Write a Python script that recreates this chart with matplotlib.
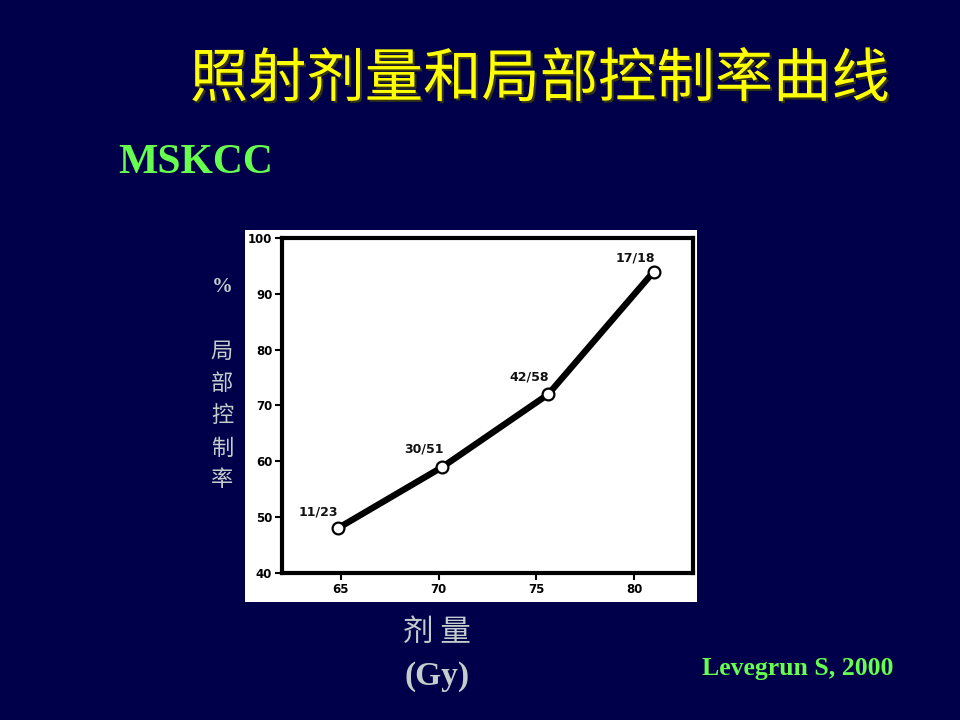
#!/usr/bin/env python3
# -*- coding: utf-8 -*-

import matplotlib
matplotlib.use('Agg')
from matplotlib import pyplot as plt
from matplotlib.patches import Rectangle
import matplotlib.patheffects as pe

# Data
dose = [64.85, 70.2, 75.6, 81.0]
control = [48, 59, 72, 94]
counts = ['11/23', '30/51', '42/58', '17/18']
x_ticks = [65, 70, 75, 80]
y_ticks = [40, 50, 60, 70, 80, 90, 100]

BG = '#00004A'
YELLOW = '#FFFF00'
GREEN = '#66FF4D'
GREY = '#C4CCCC'
CJK = ['Noto Sans CJK SC', 'DejaVu Sans']
SERIF = ['Liberation Serif', 'DejaVu Serif']

fig = plt.figure(figsize=(9.6, 7.2), dpi=100, facecolor=BG)

W, H = 960.0, 720.0
# white picture panel behind the chart
fig.patches.append(Rectangle((245 / W, 1 - 602 / H), 452 / W, 372 / H,
                             transform=fig.transFigure, facecolor='white',
                             edgecolor='none', zorder=0))

ax = fig.add_axes([282 / W, 1 - 573 / H, 411 / W, 335 / H])
ax.set_zorder(2)
ax.set_facecolor('white')
ax.plot(dose, control, color='black', lw=4.6, solid_capstyle='round',
        zorder=2)
ax.plot(dose, control, 'o', ms=8.5, mfc='white', mec='black', mew=1.6,
        zorder=3)

# n/N annotations, offset up-left of each point
offsets = [(-14, 7), (-13, 8), (-14, 8), (-13, 5)]
for x, y, lab, (dx, dy) in zip(dose, control, counts, offsets):
    ax.annotate(lab, (x, y), xytext=(dx, dy), textcoords='offset points',
                ha='center', va='bottom', fontsize=9, fontweight='bold',
                family='DejaVu Sans', color='#111111')

ax.set_xlim(62.0, 83.0)
ax.set_ylim(40, 100)
ax.set_xticks(x_ticks)
ax.set_yticks(y_ticks)
for s in ax.spines.values():
    s.set_linewidth(3)
    s.set_color('black')
ax.tick_params(direction='out', length=5, width=1.5, colors='black',
               labelsize=8.5, pad=2)
for t in ax.get_xticklabels() + ax.get_yticklabels():
    t.set_fontweight('bold')
    t.set_family('DejaVu Sans')

# title and side texts
fig.text(540 / W, 1 - 80 / H, '照射剂量和局部控制率曲线', ha='center',
         va='center', fontsize=42, color=YELLOW, family=CJK,
         fontweight='medium',
         path_effects=[pe.withSimplePatchShadow(offset=(1.5, -1.5),
                                                shadow_rgbFace='#3a3a10',
                                                alpha=0.9)])
fig.text(118 / W, 1 - 163 / H, 'MSKCC', ha='left', va='center',
         fontsize=30, color=GREEN, family=SERIF, fontweight='bold')

fig.text(222 / W, 1 - 287 / H, '%', ha='center', va='center',
         fontsize=15, color=GREY, family=SERIF, fontweight='bold')
for i, ch in enumerate('局部控制率'):
    fig.text(222 / W, 1 - (352 + i * 32) / H, ch, ha='center',
             va='center', fontsize=16, color=GREY, family=CJK)

fig.text(437 / W, 1 - 632 / H, '剂 量', ha='center', va='center',
         fontsize=22, color=GREY, family=CJK)
fig.text(437 / W, 1 - 677 / H, '(Gy)', ha='center', va='center',
         fontsize=24, color=GREY, family=SERIF, fontweight='bold')

fig.text(798 / W, 1 - 668 / H, 'Levegrun S, 2000', ha='center',
         va='center', fontsize=18.5, color=GREEN, family=SERIF,
         fontweight='bold')

fig.savefig('out.png', dpi=100, facecolor=BG)
